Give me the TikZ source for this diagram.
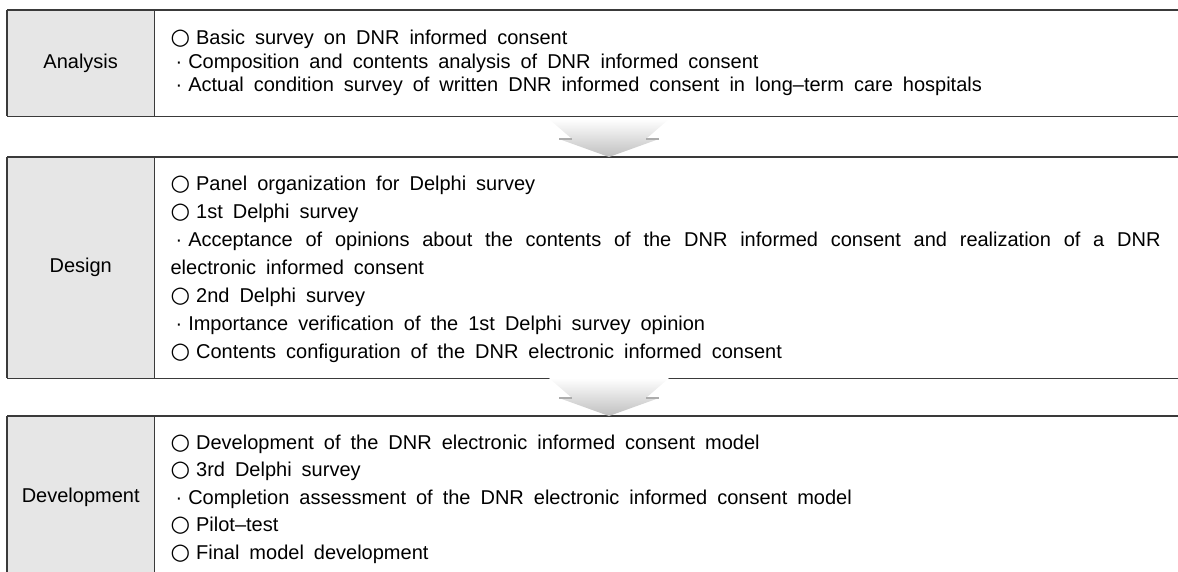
\documentclass[tikz,border=0pt]{standalone}
\usepackage{fontspec}
\setmainfont{Liberation Sans}[WordSpace=1.8]
\newfontfamily\symfont{DejaVu Sans}[Scale=1.12]
\usetikzlibrary{calc}
\usetikzlibrary{positioning}

\newcommand{\wcirc}{{\symfont ○}\hspace{6pt}}
\newcommand{\mdot}{\hspace{5pt}·\hspace{6pt}}

\definecolor{cellgray}{HTML}{E6E6E6}
\definecolor{rulegray}{HTML}{3A3A3A}

\tikzset{
	stagecell/.style={fill=cellgray, minimum width=147pt, inner sep=0pt, anchor=north west, font=\fontsize{20}{22}\selectfont},
	bodycell/.style={minimum width=1030pt, inner sep=0pt, anchor=north west},
	row/.style={anchor=base west, inner sep=0pt, font=\fontsize{20}{22}\selectfont},
	rule/.style={draw=rulegray, line width=1.2pt},
	flow/.style={top color=white, bottom color=gray!50},
	shoulder/.style={draw=gray!65, line width=1.6pt},
}

\begin{document}
\begin{tikzpicture}[x=1pt, y=-1pt]
	\useasboundingbox (0,0) rectangle (1178,571);

	\node[stagecell, minimum height=106pt] (s1) at (7,10) {Analysis};
	\node[stagecell, minimum height=221pt] (s2) at (7,157) {Design};
	\node[stagecell, minimum height=162pt] (s3) at (7,416) {Development};
	\node[bodycell, minimum height=106pt] (b1) at (s1.north east) {};
	\node[bodycell, minimum height=221pt] (b2) at (s2.north east) {};
	\node[bodycell, minimum height=200pt] (b3) at (s3.north east) {};

	\foreach \k in {1,2,3} {
		\draw[rule] (s\k.north west) -- (b\k.north east);
		\draw[rule] (s\k.north west) -- (s\k.south west);
		\draw[rule] (s\k.north east) -- (s\k.south east);
	}
	\draw[rule] (s1.south west) -- (b1.south east);
	\draw[rule] (s2.south west) -- (b2.south east);

	% text rows
	\foreach \txt [count=\i] in {
		{\wcirc Basic survey on DNR informed consent},
		{\mdot Composition and contents analysis of DNR informed consent},
		{\mdot Actual condition survey of written DNR informed consent in long–term care hospitals}} {
		\node[row] (r1\i) at ($(b1.north west)+(16,11+23.5*\i)$) {\txt};
	}
	\foreach \txt [count=\i] in {
		{\wcirc Panel organization for Delphi survey},
		{\wcirc 1st Delphi survey},
		{\makebox[990pt][s]{\mdot Acceptance of opinions about the contents of the DNR informed consent and realization of a DNR}},
		{electronic informed consent},
		{\wcirc 2nd Delphi survey},
		{\mdot Importance verification of the 1st Delphi survey opinion},
		{\wcirc Contents configuration of the DNR electronic informed consent}} {
		\node[row] (r2\i) at ($(b2.north west)+(16,5.5+28*\i)$) {\txt};
	}
	\foreach \txt [count=\i] in {
		{\wcirc Development of the DNR electronic informed consent model},
		{\wcirc 3rd Delphi survey},
		{\mdot Completion assessment of the DNR electronic informed consent model},
		{\wcirc Pilot–test},
		{\wcirc Final model development}} {
		\node[row] (r3\i) at ($(b3.north west)+(16,5.5+27.5*\i)$) {\txt};
	}

	% arrows between stages
	\coordinate (t1) at ($(s2.north west)+(602,0)$);
	\coordinate (t2) at ($(s3.north west)+(602,0)$);
	\foreach \t in {t1,t2} {
		\shade[flow] ($(\t)+(-60,-38)$) -- ($(\t)+(60,-38)$) -- ($(\t)+(37,-18)$) -- ($(\t)+(50,-18)$)
			-- (\t) -- ($(\t)+(-50,-18)$) -- ($(\t)+(-37,-18)$) -- cycle;
		\draw[shoulder] ($(\t)+(-50,-18)$) -- ($(\t)+(-37,-18)$);
		\draw[shoulder] ($(\t)+(37,-18)$) -- ($(\t)+(50,-18)$);
	}
\end{tikzpicture}
\end{document}
